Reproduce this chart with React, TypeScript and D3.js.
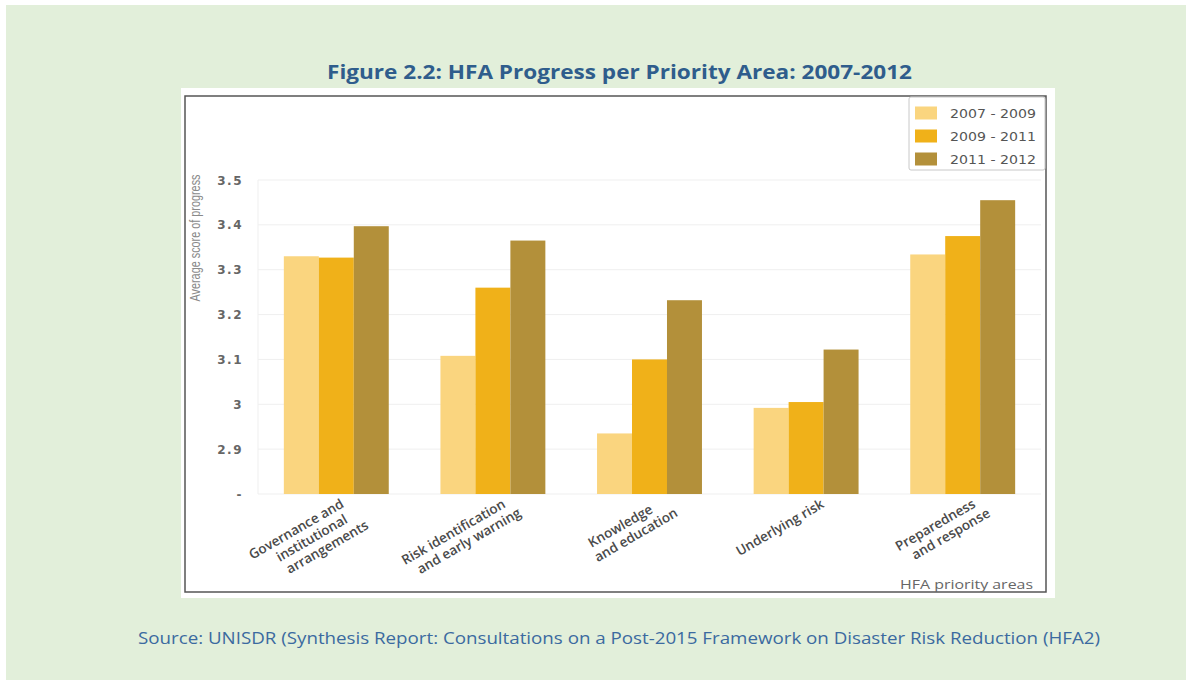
import React from "react";
import * as d3 from "d3";

const categories: string[][] = [
  ["Governance and", "institutional", "arrangements"],
  ["Risk identification", "and early warning"],
  ["Knowledge", "and education"],
  ["Underlying risk"],
  ["Preparedness", "and response"],
];
const seriesNames = ["2007 - 2009", "2009 - 2011", "2011 - 2012"];
const values0709 = [3.33, 3.108, 2.935, 2.992, 3.334];
const values0911 = [3.327, 3.26, 3.1, 3.005, 3.375];
const values1112 = [3.397, 3.365, 3.232, 3.122, 3.455];
const yTicks = [2.8, 2.9, 3.0, 3.1, 3.2, 3.3, 3.4, 3.5];
const yTickLabels = ["-", "2.9", "3", "3.1", "3.2", "3.3", "3.4", "3.5"];
const colors = ["#fad57f", "#f0b119", "#b3903a"];

const title = "Figure 2.2: HFA Progress per Priority Area: 2007-2012";
const source =
  "Source: UNISDR (Synthesis Report: Consultations on a Post-2015 Framework on Disaster Risk Reduction (HFA2)";

const LABEL_SIZE = 13.5;
const LABEL_FONT = `600 ${LABEL_SIZE}px 'Open Sans'`;

function measure(text: string, font: string): number {
  if (typeof document === "undefined") return text.length * 7.5;
  const c = document.createElement("canvas");
  const ctx = c.getContext("2d");
  if (!ctx) return text.length * 7.5;
  ctx.font = font;
  return ctx.measureText(text).width;
}

export default function App() {
  const series = [values0709, values0911, values1112];
  const plotLeft = 258;
  const plotRight = 1041;
  const y = d3.scaleLinear().domain([2.8, 3.5]).range([494, 180]);
  const x0 = d3
    .scaleBand<number>()
    .domain(categories.map((_, i) => i))
    .range([plotLeft, plotRight])
    .paddingInner(0.33)
    .paddingOuter(0.165);
  const x1 = d3
    .scaleBand<number>()
    .domain(seriesNames.map((_, i) => i))
    .range([0, x0.bandwidth()]);

  return (
    <svg
      width={1186}
      height={680}
      style={{ position: "absolute", left: 0, top: 0 }}
      xmlns="http://www.w3.org/2000/svg"
    >
      <rect x={0} y={0} width={1186} height={680} fill="#ffffff" />
      <rect x={6} y={5} width={1180} height={675} fill="#e2efda" />
      <rect x={181} y={88} width={874} height={510} fill="#ffffff" />
      <rect
        x={185}
        y={96}
        width={861}
        height={496}
        fill="#ffffff"
        stroke="#555"
        strokeWidth={1.5}
      />

      <text
        x={619.5}
        y={79}
        textAnchor="middle"
        fontFamily="'Open Sans', sans-serif"
        fontWeight={700}
        fontSize={19.5}
        fill="#2f5d8c"
        textLength={585}
        lengthAdjust="spacingAndGlyphs"
      >
        {title}
      </text>

      {/* gridlines */}
      {yTicks.map((t) => (
        <line
          key={"g" + t}
          x1={plotLeft}
          x2={plotRight}
          y1={y(t)}
          y2={y(t)}
          stroke="#efefef"
          strokeWidth={1}
        />
      ))}
      <line x1={plotLeft} x2={plotLeft} y1={y(3.5)} y2={y(2.8)} stroke="#efefef" />

      {/* y tick labels */}
      {yTicks.map((t, i) => (
        <text
          key={"t" + t}
          x={243}
          y={y(t) + 4.5}
          textAnchor="end"
          fontFamily="'DejaVu Sans', sans-serif"
          fontWeight={700}
          fontSize={12}
          letterSpacing={1.5}
          fill="#666"
        >
          {yTickLabels[i]}
        </text>
      ))}

      <text
        transform="translate(200,238) rotate(-90)"
        textAnchor="middle"
        fontFamily="'Liberation Sans Narrow', 'Liberation Sans', sans-serif"
        fontSize={14.5}
        fill="#8a8a8a"
        textLength={127}
        lengthAdjust="spacingAndGlyphs"
      >
        Average score of progress
      </text>

      {/* bars */}
      {categories.map((_, ci) => (
        <g key={"c" + ci} transform={`translate(${x0(ci)},0)`}>
          {series.map((vals, si) => (
            <rect
              key={si}
              x={x1(si)}
              y={y(vals[ci])}
              width={x1.bandwidth()}
              height={y(2.8) - y(vals[ci])}
              fill={colors[si]}
            />
          ))}
        </g>
      ))}

      {/* x labels */}
      {categories.map((lines, ci) => {
        const cx = (x0(ci) as number) + x0.bandwidth() / 2;
        const n = lines.length;
        const maxW = Math.max(...lines.map((l) => measure(l, LABEL_FONT)));
        const blockV = 16 + (n - 1) * 5;
        return (
          <g key={"l" + ci} transform={`translate(${cx},494) rotate(-30)`}>
            {lines.map((line, li) => {
              const k = li - (n - 1) / 2;
              const u = -maxW / 2 + 10 + k * 9;
              const v = blockV + k * 15.5 + 4.5;
              return (
                <text
                  key={li}
                  x={u}
                  y={v}
                  textAnchor="middle"
                  fontFamily="'Open Sans', sans-serif"
                  fontWeight={600}
                  fontSize={LABEL_SIZE}
                  fill="#4a4a4a"
                >
                  {line}
                </text>
              );
            })}
          </g>
        );
      })}

      <text
        x={1033}
        y={589}
        textAnchor="end"
        fontFamily="'Open Sans', sans-serif"
        fontSize={13}
        fill="#666"
        textLength={133}
        lengthAdjust="spacingAndGlyphs"
      >
        HFA priority areas
      </text>

      {/* legend */}
      <rect
        x={909}
        y={97}
        width={136}
        height={73}
        rx={2}
        fill="#fff"
        stroke="#c8c8c8"
      />
      {seriesNames.map((s, i) => (
        <g key={"lg" + i} transform={`translate(915,${113 + i * 23})`}>
          <rect x={0} y={-6.5} width={22} height={13} fill={colors[i]} />
          <text
            x={35}
            y={4.5}
            fontFamily="'DejaVu Sans', sans-serif"
            fontSize={11.5}
            fill="#555"
            textLength={86}
            lengthAdjust="spacingAndGlyphs"
          >
            {s}
          </text>
        </g>
      ))}

      <text
        x={619}
        y={644}
        textAnchor="middle"
        fontFamily="'Open Sans', sans-serif"
        fontSize={16}
        fill="#3b6aa0"
        textLength={962}
        lengthAdjust="spacingAndGlyphs"
      >
        {source}
      </text>
    </svg>
  );
}
